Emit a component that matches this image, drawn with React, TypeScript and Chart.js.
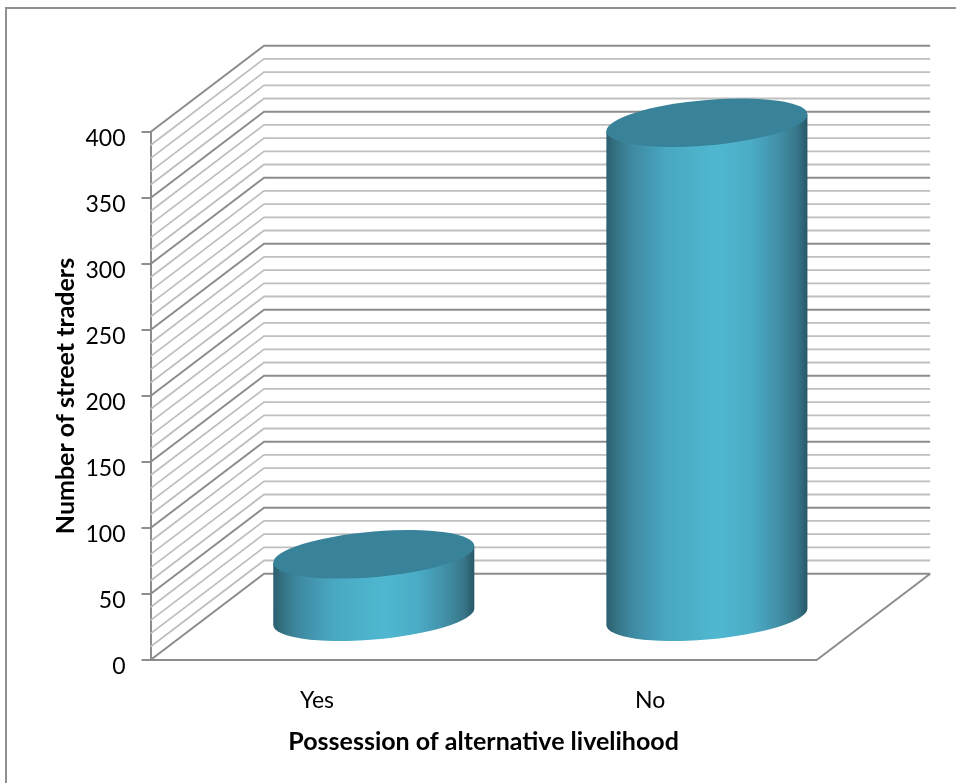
import { useEffect, useRef } from "react";
import { Chart, registerables } from "chart.js";

Chart.register(...registerables);

const categories = ["Yes", "No"];
const traderCounts = [48, 375];
const gridStep = 10;
const labelStep = 50;
const axisMax = 400;
const xTitle = "Possession of alternative livelihood";
const yTitle = "Number of street traders";

// Oblique projection of the box depth, in canvas pixels.
const DEPTH_X = 113.5;
const DEPTH_Y = -86.3;
const FONT = "Lato, Carlito, sans-serif";

const wallsAndCylinders = {
  id: "wallsAndCylinders",
  beforeDraw(chart: any) {
    const { ctx, width, height } = chart;
    ctx.save();
    ctx.fillStyle = "#fff";
    ctx.fillRect(0, 0, width, height);
    ctx.strokeStyle = "#8f8f8f";
    ctx.lineWidth = 2;
    ctx.strokeRect(6, 8, width + 20, height + 20);
    ctx.restore();
  },
  beforeDatasetsDraw(chart: any) {
    const { ctx, scales } = chart;
    const { x, y } = scales;
    ctx.save();
    for (let v = 0; v <= axisMax; v += gridStep) {
      const major = v % labelStep === 0;
      const py = y.getPixelForValue(v);
      ctx.beginPath();
      ctx.moveTo(x.left, py);
      ctx.lineTo(x.left + DEPTH_X, py + DEPTH_Y);
      ctx.lineTo(x.right + DEPTH_X, py + DEPTH_Y);
      ctx.strokeStyle = major ? "#8c8c8c" : "#bfbfbf";
      ctx.lineWidth = major ? 2 : 1.8;
      ctx.stroke();
    }
    // Right-hand edge of the floor.
    ctx.beginPath();
    ctx.moveTo(x.right, y.bottom);
    ctx.lineTo(x.right + DEPTH_X, y.bottom + DEPTH_Y);
    ctx.strokeStyle = "#8c8c8c";
    ctx.lineWidth = 2;
    ctx.stroke();
    ctx.restore();
  },
  afterDatasetsDraw(chart: any) {
    const { ctx } = chart;
    const bars = chart.getDatasetMeta(0).data;
    const ry = 22.8;
    const skew = -8.3 / 100.5;
    bars.forEach((bar: any) => {
      const rx = bar.width / 2;
      const cx = bar.x + DEPTH_X / 2;
      const topY = bar.y + DEPTH_Y * 0.49;
      const baseY = bar.base + DEPTH_Y * 0.49;
      const grad = ctx.createLinearGradient(-rx, 0, rx, 0);
      grad.addColorStop(0, "#2b5f70");
      grad.addColorStop(0.04, "#33707f");
      grad.addColorStop(0.12, "#3e88a0");
      grad.addColorStop(0.3, "#49a8c2");
      grad.addColorStop(0.55, "#4fb8d0");
      grad.addColorStop(0.72, "#4bacc6");
      grad.addColorStop(0.85, "#4291a9");
      grad.addColorStop(0.95, "#377688");
      grad.addColorStop(1, "#285767");
      ctx.save();
      // Side wall: lower half of the base ellipse, closed up to the top rim.
      ctx.transform(1, skew, 0, 1, cx, 0);
      ctx.beginPath();
      ctx.ellipse(0, baseY, rx, ry, 0, 0, Math.PI);
      ctx.lineTo(-rx, topY);
      ctx.lineTo(rx, topY);
      ctx.closePath();
      ctx.fillStyle = grad;
      ctx.fill();
      // Top cap.
      ctx.beginPath();
      ctx.ellipse(0, topY, rx, ry, 0, 0, Math.PI * 2);
      ctx.fillStyle = "#39839a";
      ctx.fill();
      ctx.restore();
    });
  },
};

export default function App() {
  const ref = useRef<HTMLCanvasElement>(null);

  useEffect(() => {
    const chart = new Chart(ref.current!, {
      type: "bar",
      data: {
        labels: categories,
        datasets: [
          {
            data: traderCounts,
            backgroundColor: "rgba(0,0,0,0)",
            borderWidth: 0,
            categoryPercentage: 1,
            barPercentage: 0.6036,
          },
        ],
      },
      options: {
        responsive: false,
        animation: false,
        events: [],
        layout: { padding: { left: 51, top: 132, right: 139.3, bottom: 0 } },
        plugins: { legend: { display: false }, tooltip: { enabled: false } },
        scales: {
          x: {
            grid: { display: true, drawOnChartArea: false, drawTicks: false, color: "rgba(0,0,0,0)" },
            border: { color: "#8c8c8c", width: 2 },
            ticks: { color: "#000", font: { family: FONT, size: 23 }, padding: 27, maxRotation: 0 },
            title: {
              display: true,
              text: xTitle,
              color: "#000",
              font: { family: FONT, size: 25, weight: "bold" },
              padding: { top: 0, bottom: 26 },
            },
            afterFit(scale: any) {
              scale.height = 123;
            },
          },
          y: {
            min: 0,
            max: axisMax,
            grid: { drawOnChartArea: false, drawTicks: true, tickLength: 9, color: "#8c8c8c", lineWidth: 2 },
            border: { color: "#8c8c8c", width: 2 },
            ticks: {
              stepSize: labelStep,
              color: "#000",
              font: { family: FONT, size: 23 },
              padding: 16,
              labelOffset: 7,
            },
            title: {
              display: true,
              text: yTitle,
              color: "#000",
              font: { family: FONT, size: 25, weight: "bold" },
              padding: { top: 0, bottom: 0 },
            },
            afterFit(scale: any) {
              scale.width = 99.5;
            },
          },
        },
      },
      plugins: [wallsAndCylinders],
    } as any);
    return () => chart.destroy();
  }, []);

  return (
    <div style={{ position: "absolute", left: 0, top: 0, width: 956, height: 783, overflow: "hidden" }}>
      <canvas ref={ref} width={956} height={783} style={{ display: "block" }} />
    </div>
  );
}
